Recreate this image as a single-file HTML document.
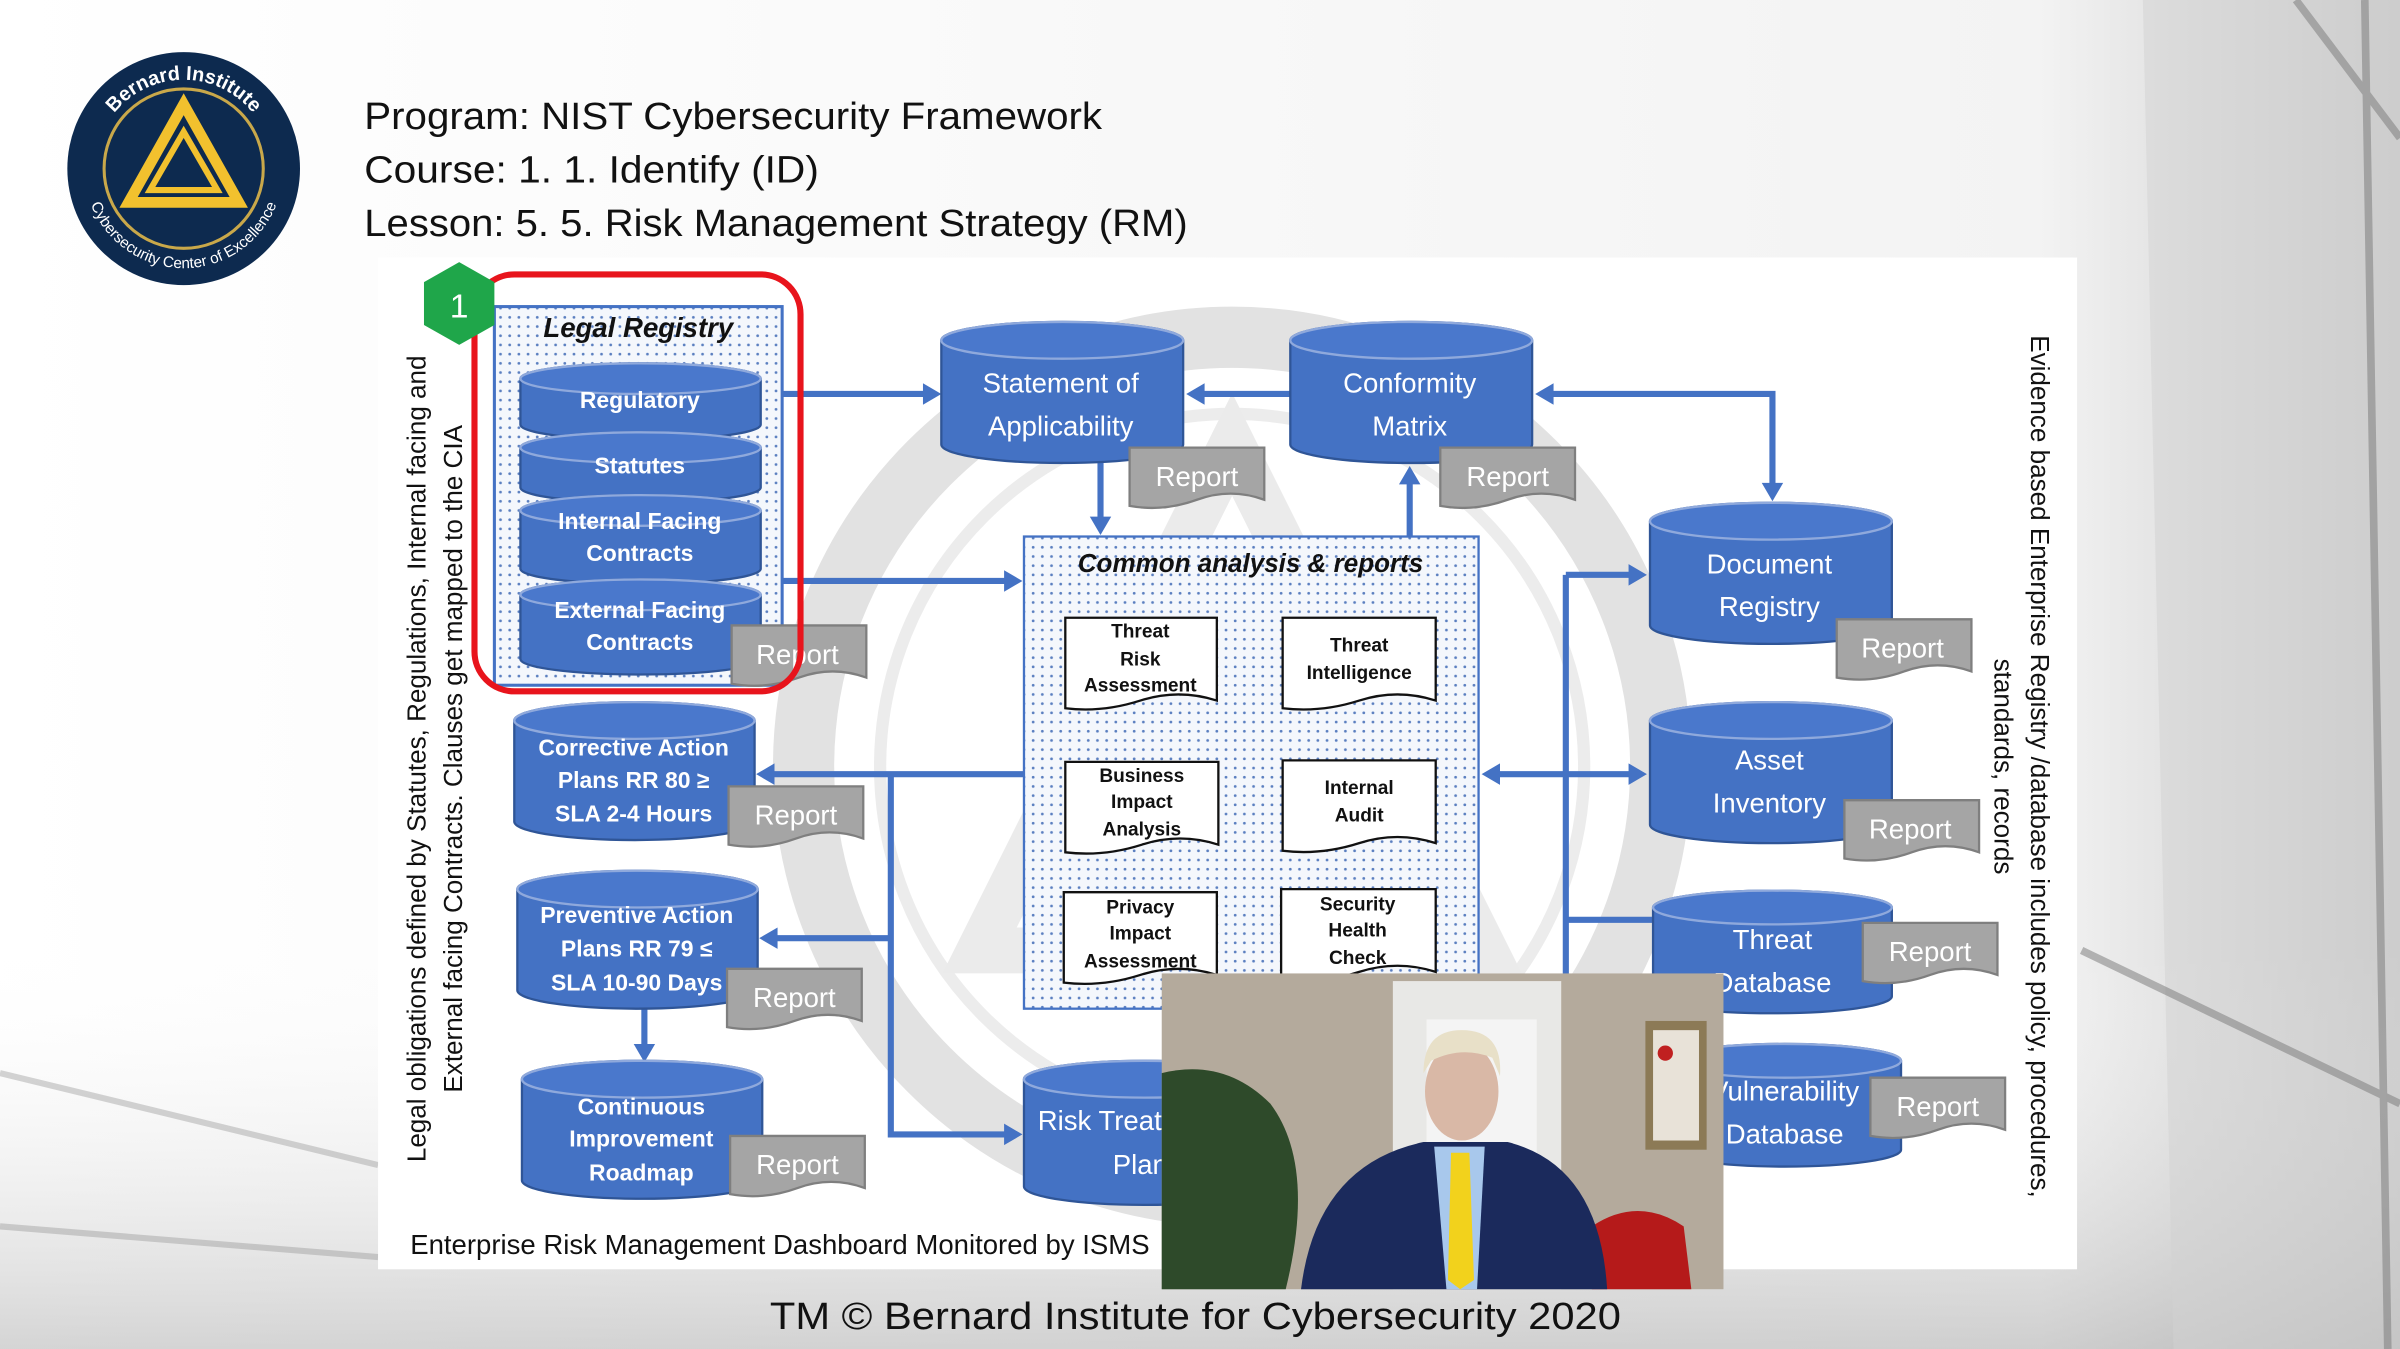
<!DOCTYPE html>
<html><head><meta charset="utf-8"><style>
html,body{margin:0;padding:0;width:2400px;height:1349px;overflow:hidden;background:#fff}
svg{display:block}
text{font-family:"Liberation Sans",sans-serif}
.c{fill:#4472c4;stroke:#2f5597;stroke-width:1.5}
.ct{fill:#4a78cc;stroke:#8fa9dc;stroke-width:1.5}
.w{fill:#fff;font-size:18px;text-anchor:middle}
.wb{fill:#fff;font-size:15px;font-weight:bold;text-anchor:middle}
.r{fill:#a5a5a5;stroke:#7f7f7f;stroke-width:1.5}
.rt{fill:#fff;font-size:18px;text-anchor:middle}
.ln{stroke:#4472c4;stroke-width:4;fill:none}
.ah{fill:#4472c4}
.d{fill:#fff;stroke:#111;stroke-width:1.5}
.dt{fill:#111;font-size:12.5px;font-weight:bold;text-anchor:middle}
</style></head><body>
<svg width="2400" height="1349" viewBox="0 0 1568 880" preserveAspectRatio="none" xmlns="http://www.w3.org/2000/svg">
<defs>
<pattern id="dots" width="6" height="6" patternUnits="userSpaceOnUse"><rect width="6" height="6" fill="#f4f7fc"/><circle cx="3" cy="3" r="0.9" fill="#5b7fc0"/></pattern>
<linearGradient id="bgR" x1="0" x2="1" y1="0" y2="0"><stop offset="0" stop-color="#fff"/><stop offset="0.85" stop-color="#f3f3f3"/><stop offset="1" stop-color="#c8c8c8"/></linearGradient>
<linearGradient id="bgB" x1="0" x2="0" y1="0" y2="1"><stop offset="0" stop-color="#fff" stop-opacity="0"/><stop offset="1" stop-color="#aaa" stop-opacity="0.5"/></linearGradient>
<path id="arcT" d="M62 110 A58 58 0 0 1 178 110"/>
<path id="arcB" d="M55 110 A65 65 0 0 0 185 110"/>
</defs>
<rect width="1568" height="880" fill="url(#bgR)"/>
<rect y="620" width="1568" height="260" fill="url(#bgB)"/>
<path d="M1400 0 L1568 0 L1568 880 L1420 880 Z" fill="#d2d2d2" opacity="0.5"/>
<path d="M1500 0 L1568 90 M1360 620 L1568 720 M1545 0 L1560 880" stroke="#777" stroke-width="5" opacity="0.5"/>
<path d="M0 700 L247 760 M0 800 L247 820" stroke="#888" stroke-width="4" opacity="0.35"/>
<!-- panel -->
<rect x="247" y="168" width="1110" height="660" fill="#fff"/>
<!-- watermark -->
<circle cx="805" cy="500" r="280" fill="none" stroke="#e2e2e2" stroke-width="40"/>
<circle cx="805" cy="500" r="230" fill="none" stroke="#ececec" stroke-width="8"/>
<path d="M805 290 L640 620 L970 620 Z" fill="none" stroke="#ebebeb" stroke-width="30"/>

<!-- logo -->
<circle cx="120" cy="110" r="76" fill="#0d2a4f"/>
<circle cx="120" cy="110" r="52" fill="none" stroke="#c9a84a" stroke-width="2"/>
<path d="M120 68 L156 132 L84 132 Z" fill="none" stroke="#f2c12e" stroke-width="7"/>
<path d="M120 86 L142 124 L98 124 Z" fill="none" stroke="#f2c12e" stroke-width="4"/>
<text fill="#fff" font-size="13" font-weight="bold" text-anchor="middle"><textPath href="#arcT" startOffset="50%">Bernard Institute</textPath></text>
<text fill="#fff" font-size="10" text-anchor="middle"><textPath href="#arcB" startOffset="50%" side="right">Cybersecurity Center of Excellence</textPath></text>

<!-- title -->
<g font-size="25" fill="#111">
<text x="238" y="84" textLength="482" lengthAdjust="spacingAndGlyphs">Program: NIST Cybersecurity Framework</text>
<text x="238" y="119" textLength="297" lengthAdjust="spacingAndGlyphs">Course: 1. 1. Identify (ID)</text>
<text x="238" y="154" textLength="538" lengthAdjust="spacingAndGlyphs">Lesson: 5. 5. Risk Management Strategy (RM)</text>
</g>

<!-- connectors -->
<path class="ln" d="M511 257 H606"/><path class="ah" d="M615 257 l-12 -7 v14z"/>
<path class="ln" d="M843 257 H784"/><path class="ah" d="M775 257 l12 -7 v14z"/>
<path class="ln" d="M1012 257 H1158 V318"/><path class="ah" d="M1003 257 l12 -7 v14z"/><path class="ah" d="M1158 327 l-7 -12 h14z"/>
<path class="ln" d="M719 302 V340"/><path class="ah" d="M719 349 l-7 -12 h14z"/>
<path class="ln" d="M921 350 V314"/><path class="ah" d="M921 304 l-7 12 h14z"/>
<path class="ln" d="M511 379 H658"/><path class="ah" d="M668 379 l-12 -7 v14z"/>
<path class="ln" d="M669 505 H504 M582 505 V740 H658 M582 612 H506"/>
<path class="ah" d="M494 505 l12 -7 v14z"/><path class="ah" d="M496 612 l12 -7 v14z"/><path class="ah" d="M668 740 l-12 -7 v14z"/>
<path class="ln" d="M978 505 H1066 M1023 375 V640 M1023 375 H1066 M1023 600 H1080"/>
<path class="ah" d="M968 505 l12 -7 v14z"/><path class="ah" d="M1076 505 l-12 -7 v14z"/><path class="ah" d="M1076 375 l-12 -7 v14z"/>
<path class="ln" d="M421 658 V684"/><path class="ah" d="M421 693 l-7 -12 h14z"/>

<!-- Legal registry -->
<rect x="323" y="200" width="188" height="247" fill="url(#dots)" stroke="#4472c4" stroke-width="2"/>
<text x="417" y="220" font-size="18" font-weight="bold" font-style="italic" text-anchor="middle" fill="#111">Legal Registry</text>
<path class="c" d="M340 247 a78.5 10 0 0 1 157 0 v30 a78.5 10 0 0 1 -157 0z"/><ellipse class="ct" cx="418.5" cy="247" rx="78.5" ry="10"/>
<text class="wb" x="418" y="266">Regulatory</text>
<path class="c" d="M340 292 a78.5 10 0 0 1 157 0 v26 a78.5 10 0 0 1 -157 0z"/><ellipse class="ct" cx="418.5" cy="292" rx="78.5" ry="10"/>
<text class="wb" x="418" y="309">Statutes</text>
<path class="c" d="M340 333 a78.5 10 0 0 1 157 0 v38 a78.5 10 0 0 1 -157 0z"/><ellipse class="ct" cx="418.5" cy="333" rx="78.5" ry="10"/>
<text class="wb" x="418" y="345">Internal Facing</text><text class="wb" x="418" y="366">Contracts</text>
<path class="c" d="M340 388 a78.5 10 0 0 1 157 0 v42 a78.5 10 0 0 1 -157 0z"/><ellipse class="ct" cx="418.5" cy="388" rx="78.5" ry="10"/>
<text class="wb" x="418" y="403">External Facing</text><text class="wb" x="418" y="424">Contracts</text>
<path class="r" d="M478 408 h88 v34 q-22 -8 -44 0 t-44 4z"/><text class="rt" x="521" y="433">Report</text>
<rect x="310" y="179" width="213" height="272" rx="26" fill="none" stroke="#e8141c" stroke-width="4"/>
<path d="M300 171 L323 184 L323 212 L300 225 L277 212 L277 184Z" fill="#1fa64a"/>
<text x="300" y="207" fill="#fff" font-size="22" text-anchor="middle">1</text>

<!-- SoA / Conformity -->
<path class="c" d="M615 222 a79 12 0 0 1 158 0 v68 a79 12 0 0 1 -158 0z"/><ellipse class="ct" cx="694" cy="222" rx="79" ry="12"/>
<text class="w" x="693" y="256">Statement of</text><text class="w" x="693" y="284">Applicability</text>
<path class="r" d="M738 292 h88 v34 q-22 -8 -44 0 t-44 4z"/><text class="rt" x="782" y="317">Report</text>
<path class="c" d="M843 222 a79 12 0 0 1 158 0 v68 a79 12 0 0 1 -158 0z"/><ellipse class="ct" cx="922" cy="222" rx="79" ry="12"/>
<text class="w" x="921" y="256">Conformity</text><text class="w" x="921" y="284">Matrix</text>
<path class="r" d="M941 292 h88 v34 q-22 -8 -44 0 t-44 4z"/><text class="rt" x="985" y="317">Report</text>

<!-- Common analysis -->
<rect x="669" y="350" width="297" height="308" fill="url(#dots)" stroke="#4472c4" stroke-width="1.5"/>
<text x="817" y="373" font-size="17" font-weight="bold" font-style="italic" text-anchor="middle" fill="#111">Common analysis &amp; reports</text>
<g>
<path class="d" d="M696 403 h99 v54 q-25 -8 -50 0 t-49 5z"/><text class="dt" x="745" y="416">Threat</text><text class="dt" x="745" y="434">Risk</text><text class="dt" x="745" y="451">Assessment</text>
<path class="d" d="M838 403 h100 v54 q-25 -8 -50 0 t-50 5z"/><text class="dt" x="888" y="425">Threat</text><text class="dt" x="888" y="443">Intelligence</text>
<path class="d" d="M696 497 h100 v54 q-25 -8 -50 0 t-50 5z"/><text class="dt" x="746" y="510">Business</text><text class="dt" x="746" y="527">Impact</text><text class="dt" x="746" y="545">Analysis</text>
<path class="d" d="M838 496 h100 v54 q-25 -8 -50 0 t-50 5z"/><text class="dt" x="888" y="518">Internal</text><text class="dt" x="888" y="536">Audit</text>
<path class="d" d="M695 582 h100 v54 q-25 -8 -50 0 t-50 5z"/><text class="dt" x="745" y="596">Privacy</text><text class="dt" x="745" y="613">Impact</text><text class="dt" x="745" y="631">Assessment</text>
<path class="d" d="M837 580 h101 v54 q-25 -8 -50 0 t-51 5z"/><text class="dt" x="887" y="594">Security</text><text class="dt" x="887" y="611">Health</text><text class="dt" x="887" y="629">Check</text>
</g>

<!-- right cylinders -->
<path class="c" d="M1078 340 a79 12 0 0 1 158 0 v68 a79 12 0 0 1 -158 0z"/><ellipse class="ct" cx="1157" cy="340" rx="79" ry="12"/>
<text class="w" x="1156" y="374">Document</text><text class="w" x="1156" y="402">Registry</text>
<path class="r" d="M1200 404 h88 v34 q-22 -8 -44 0 t-44 4z"/><text class="rt" x="1243" y="429">Report</text>
<path class="c" d="M1078 470 a79 12 0 0 1 158 0 v68 a79 12 0 0 1 -158 0z"/><ellipse class="ct" cx="1157" cy="470" rx="79" ry="12"/>
<text class="w" x="1156" y="502">Asset</text><text class="w" x="1156" y="530">Inventory</text>
<path class="r" d="M1205 522 h88 v34 q-22 -8 -44 0 t-44 4z"/><text class="rt" x="1248" y="547">Report</text>
<path class="c" d="M1080 592 a78 11 0 0 1 156 0 v58 a78 11 0 0 1 -156 0z"/><ellipse class="ct" cx="1158" cy="592" rx="78" ry="11"/>
<text class="w" x="1158" y="619">Threat</text><text class="w" x="1158" y="647">Database</text>
<path class="r" d="M1217 602 h88 v34 q-22 -8 -44 0 t-44 4z"/><text class="rt" x="1261" y="627">Report</text>
<path class="c" d="M1090 692 a76 11 0 0 1 152 0 v58 a76 11 0 0 1 -152 0z"/><ellipse class="ct" cx="1166" cy="692" rx="76" ry="11"/>
<text class="w" x="1166" y="718">Vulnerability</text><text class="w" x="1166" y="746">Database</text>
<path class="r" d="M1222 703 h88 v34 q-22 -8 -44 0 t-44 4z"/><text class="rt" x="1266" y="728">Report</text>

<!-- left cylinders -->
<path class="c" d="M336 470 a78.5 12 0 0 1 157 0 v66 a78.5 12 0 0 1 -157 0z"/><ellipse class="ct" cx="414.5" cy="470" rx="78.5" ry="12"/>
<text class="wb" x="414" y="493">Corrective Action</text><text class="wb" x="414" y="514">Plans RR 80 ≥</text><text class="wb" x="414" y="536">SLA 2-4 Hours</text>
<path class="r" d="M476 513 h88 v34 q-22 -8 -44 0 t-44 4z"/><text class="rt" x="520" y="538">Report</text>
<path class="c" d="M338 580 a78.5 12 0 0 1 157 0 v66 a78.5 12 0 0 1 -157 0z"/><ellipse class="ct" cx="416.5" cy="580" rx="78.5" ry="12"/>
<text class="wb" x="416" y="602">Preventive Action</text><text class="wb" x="416" y="624">Plans RR 79 ≤</text><text class="wb" x="416" y="646">SLA 10-90 Days</text>
<path class="r" d="M475 632 h88 v34 q-22 -8 -44 0 t-44 4z"/><text class="rt" x="519" y="657">Report</text>
<path class="c" d="M341 704 a78.5 12 0 0 1 157 0 v66 a78.5 12 0 0 1 -157 0z"/><ellipse class="ct" cx="419.5" cy="704" rx="78.5" ry="12"/>
<text class="wb" x="419" y="727">Continuous</text><text class="wb" x="419" y="748">Improvement</text><text class="wb" x="419" y="770">Roadmap</text>
<path class="r" d="M477 741 h88 v34 q-22 -8 -44 0 t-44 4z"/><text class="rt" x="521" y="766">Report</text>
<path class="c" d="M669 704 a79 12 0 0 1 158 0 v70 a79 12 0 0 1 -158 0z"/><ellipse class="ct" cx="748" cy="704" rx="79" ry="12"/>
<text x="678" y="737" fill="#fff" font-size="18">Risk Treatment</text><text x="727" y="766" fill="#fff" font-size="18">Plan</text>

<!-- side texts -->
<g font-size="17" fill="#111" text-anchor="middle">
<text transform="translate(278 495) rotate(-90)">Legal obligations defined by Statutes, Regulations, Internal facing and</text>
<text transform="translate(302 495) rotate(-90)">External facing Contracts. Clauses get mapped to the CIA</text>
<text transform="translate(1327 500) rotate(90)">Evidence based Enterprise Registry /database includes policy, procedures,</text>
<text transform="translate(1303 500) rotate(90)">standards, records</text>
</g>
<text x="268" y="818" font-size="18" fill="#111">Enterprise Risk Management Dashboard Monitored by ISMS</text>

<!-- video -->
<g>
<rect x="759" y="635" width="367" height="206" fill="#b4aa9c"/>
<rect x="910" y="640" width="110" height="201" fill="#e8e8e6"/>
<rect x="932" y="665" width="72" height="110" fill="#f4f4f4"/>
<path d="M759 700 Q800 690 830 720 Q860 760 840 841 L759 841Z" fill="#2e4a2a"/>
<rect x="1075" y="666" width="40" height="84" fill="#8c7a56"/><rect x="1080" y="672" width="30" height="72" fill="#e8e2d8"/>
<circle cx="1088" cy="687" r="5" fill="#c02020"/>
<path d="M1040 800 Q1070 780 1100 800 L1105 841 L1040 841Z" fill="#b51a1a"/>
<ellipse cx="955" cy="712" rx="24" ry="32" fill="#d9b8a6"/>
<path d="M930 700 Q930 672 955 672 Q982 672 980 702 L975 690 Q955 682 935 692Z" fill="#e8e0c8"/>
<path d="M850 841 Q860 760 930 745 L985 745 Q1045 760 1050 841Z" fill="#1b2a5c"/>
<path d="M937 748 L970 748 L965 841 L945 841Z" fill="#a8c8ec"/>
<path d="M948 752 L960 752 L963 835 L954 841 L946 835Z" fill="#f2d21c"/>
</g>
<text x="503" y="867" font-size="25" fill="#111" textLength="556" lengthAdjust="spacingAndGlyphs">TM © Bernard Institute for Cybersecurity 2020</text>
</svg>
</body></html>
